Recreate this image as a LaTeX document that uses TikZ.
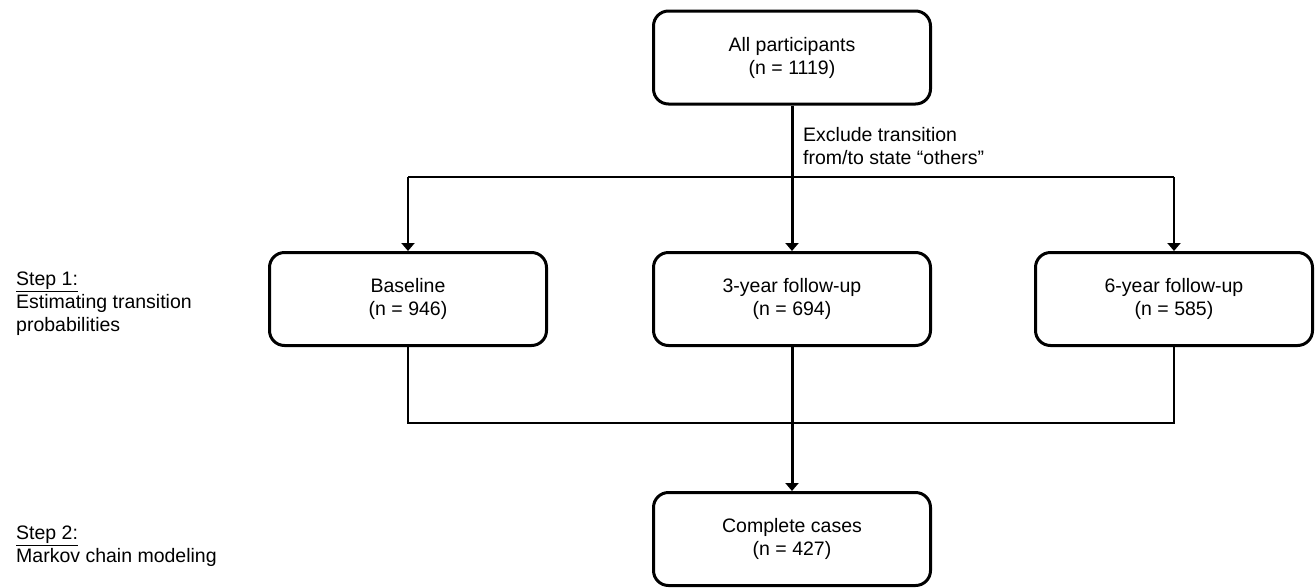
\documentclass[tikz,border=0pt]{standalone}
\usepackage{fontspec}
\setmainfont{Liberation Sans}
\usetikzlibrary{arrows.meta}
\begin{document}
\begin{tikzpicture}[x=1pt,y=-1pt,
  txt/.style={font=\fontsize{19.5}{23}\selectfont, inner sep=0pt, align=left},
  stagebox/.style={draw, line width=3pt, rounded corners=15pt, minimum width=277pt, minimum height=93pt, align=center, font=\fontsize{19.5}{23}\selectfont, inner sep=0pt},
  mainline/.style={line width=3pt},
  branch/.style={line width=2pt},
  tip/.style={-{Triangle[width=13pt,length=8pt]}}
]
\useasboundingbox (0,0) rectangle (1315,587);
\node[stagebox] (all) at (792,57.5) {All participants\\(n = 1119)};
\node[stagebox] (base) at (408,299) {Baseline\\(n = 946)};
\node[stagebox] (three) at (792,299) {3-year follow-up\\(n = 694)};
\node[stagebox] (six) at (1174,299) {6-year follow-up\\(n = 585)};
\node[stagebox] (comp) at (792,539) {Complete cases\\(n = 427)};

\node[txt, anchor=west] (excl) at (803,146) {Exclude transition\\from/to state “others”};
\node[txt, anchor=west] (step1) at (16,304) {\underline{Step 1:}\\Estimating transition\\probabilities};
\node[txt, anchor=west] (step2) at (16,546) {\underline{Step 2:}\\Markov chain modeling};

\coordinate (tl) at (408,177);
\coordinate (tr) at (1174,177);
\coordinate (bl) at (408,423);
\coordinate (br) at (1174,423);

\draw[mainline, tip] (all.south) -- (three.north);
\draw[branch, tip] (tl) -- (tl -| base.north) -- (base.north);
\draw[branch] (tl) -- (tr);
\draw[branch, tip] (tr) -- (six.north);
\draw[branch] (base.south) -- (bl) -- (br) -- (six.south);
\draw[mainline, tip] (three.south) -- (comp.north);
\end{tikzpicture}
\end{document}
